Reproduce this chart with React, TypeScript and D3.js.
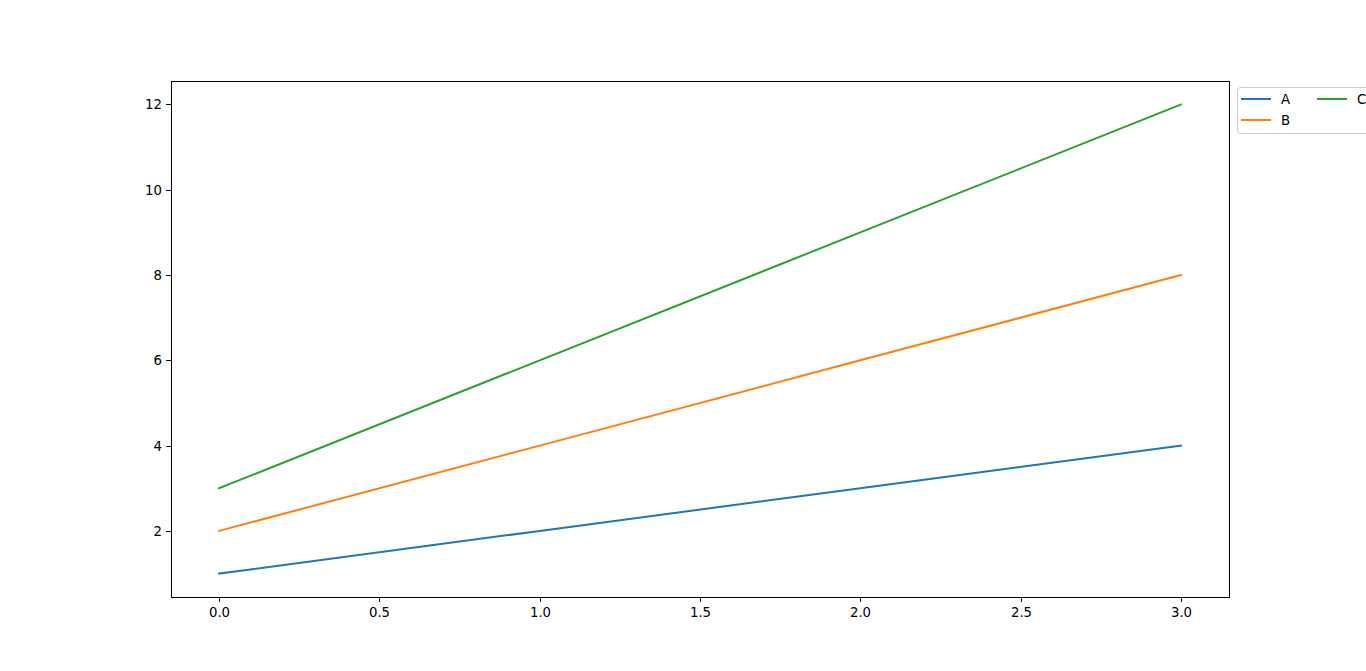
import React, { useEffect, useRef } from "react";
import * as d3 from "d3";

const xValues = [0, 1, 2, 3];
const seriesA = [1, 2, 3, 4];
const seriesB = [2, 4, 6, 8];
const seriesC = [3, 6, 9, 12];
const seriesNames = ["A", "B", "C"];
const seriesColors = ["#1f77b4", "#ff7f0e", "#2ca02c"];
const xTicks = [0, 0.5, 1, 1.5, 2, 2.5, 3];
const yTicks = [2, 4, 6, 8, 10, 12];

export default function App() {
  const ref = useRef<SVGSVGElement>(null);
  useEffect(() => {
    const svg = d3.select(ref.current);
    svg.selectAll("*").remove();
    const W = 1366, H = 671;
    const left = 171, right = 1229, top = 81, bottom = 597;
    const x = d3.scaleLinear().domain([-0.15, 3.15]).range([left, right]);
    const y = d3.scaleLinear().domain([0.45, 12.55]).range([bottom, top]);
    const font = "DejaVu Sans, sans-serif";
    svg.append("rect").attr("width", W).attr("height", H).attr("fill", "white");

    const series = [seriesA, seriesB, seriesC];
    const line = d3.line<number>().x((_, i) => x(xValues[i])).y(d => y(d));
    series.forEach((s, i) => {
      svg.append("path").attr("d", line(s)!).attr("fill", "none")
        .attr("stroke", seriesColors[i]).attr("stroke-width", 2)
        .attr("stroke-linecap", "square");
    });

    // axes frame
    svg.append("rect").attr("x", left).attr("y", top).attr("width", right - left)
      .attr("height", bottom - top).attr("fill", "none").attr("stroke", "black")
      .attr("stroke-width", 1).attr("shape-rendering", "crispEdges");

    xTicks.forEach(t => {
      const px = Math.round(x(t)) + 0.5;
      svg.append("line").attr("x1", px).attr("x2", px).attr("y1", bottom).attr("y2", bottom + 4.9)
        .attr("stroke", "black").attr("stroke-width", 1);
      svg.append("text").attr("x", px).attr("y", bottom + 20).attr("text-anchor", "middle")
        .attr("font-family", font).attr("font-size", 13.3).text(t.toFixed(1));
    });
    yTicks.forEach(t => {
      const py = Math.round(y(t)) + 0.5;
      svg.append("line").attr("x1", left - 4.9).attr("x2", left).attr("y1", py).attr("y2", py)
        .attr("stroke", "black").attr("stroke-width", 1);
      svg.append("text").attr("x", left - 9).attr("y", py).attr("dy", "0.35em").attr("text-anchor", "end")
        .attr("font-family", font).attr("font-size", 13.3).text(String(t));
    });

    // legend
    const lx = 1237, ly = 87;
    svg.append("rect").attr("x", lx + 0.5).attr("y", ly + 0.5).attr("width", 140).attr("height", 46)
      .attr("rx", 3).attr("fill", "white").attr("fill-opacity", 0.8)
      .attr("stroke", "#cccccc").attr("stroke-width", 1);
    const positions = [[1241, 99], [1241, 120], [1317, 99]];
    seriesNames.forEach((n, i) => {
      const [px, py] = positions[i];
      svg.append("line").attr("x1", px).attr("x2", px + 30).attr("y1", py).attr("y2", py)
        .attr("stroke", seriesColors[i]).attr("stroke-width", 2);
      svg.append("text").attr("x", px + 40).attr("y", py).attr("dy", "0.35em")
        .attr("font-family", font).attr("font-size", 13.3).text(n);
    });
  }, []);
  return (
    <svg ref={ref} width={1366} height={671}
      style={{ position: "absolute", left: 0, top: 0, display: "block" }} />
  );
}
